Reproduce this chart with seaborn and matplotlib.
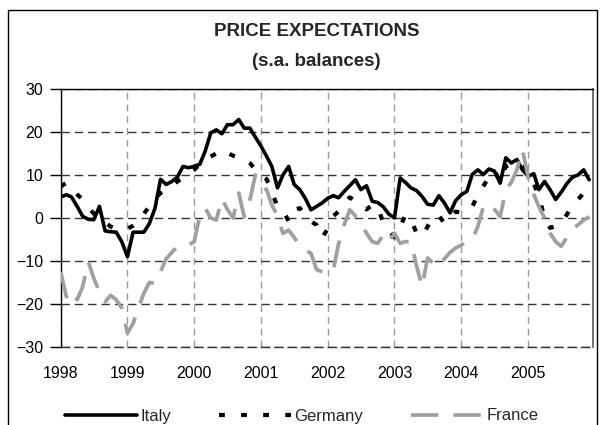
import numpy as np
import pandas as pd
import seaborn as sns
import matplotlib.pyplot as plt
import matplotlib.dates as mdates
from matplotlib.patches import Rectangle

#%% data - monthly balances, Jan 1998 .. Dec 2005

italy = [4.9, 5.4, 4.9, 2.7, 0.4, -0.3, -0.4, 2.7, -3.0, -3.2, -3.3, -5.5,
         -9.0, -3.3, -3.3, -3.3, -1.3, 2.3, 9.0, 7.8, 8.5, 9.5, 12.0, 11.7,
         12.0, 12.5, 15.5, 19.8, 20.5, 19.6, 21.7, 21.7, 22.9, 20.9, 20.9, 18.8,
         16.7, 14.3, 12.0, 7.0, 10.0, 12.0, 7.8, 6.6, 4.5, 1.9, 2.7, 3.5,
         4.6, 5.2, 4.7, 6.2, 7.5, 8.9, 6.6, 7.5, 3.9, 3.6, 2.6, 0.9,
         0.0, 9.3, 8.3, 7.0, 6.4, 5.0, 3.2, 3.0, 5.2, 3.5, 1.2, 4.0,
         5.4, 6.2, 10.1, 11.2, 10.1, 11.4, 10.9, 8.1, 14.0, 12.8, 13.6, 11.2,
         9.7, 10.3, 6.6, 8.5, 6.6, 4.3, 6.0, 8.0, 9.5, 10.0, 11.2, 8.9]

germany = [7.3, 8.2, 7.0, 5.5, 4.3, 2.5, 1.0, 0.5, -1.0, -2.0, -2.5, -2.7,
           -2.5, -1.8, -0.8, 1.0, 2.7, 4.5, 5.8, 6.6, 7.5, 8.5, 9.3, 10.3,
           11.2, 12.5, 13.6, 14.3, 15.0, 15.9, 15.1, 14.5, 14.0, 13.8, 12.8, 11.2,
           10.0, 9.0, 6.0, 2.7, 1.9, -0.8, 1.9, 2.3, 0.5, -0.8, -1.6, -4.6,
           -2.5, 0.5, 1.5, 3.5, 4.8, 4.0, 3.0, 2.0, 3.0, 2.7, -1.2, -3.0,
           -4.5, -2.0, 0.6, -0.2, -3.5, -4.3, -2.0, 0.4, 0.5, -1.2, -0.3, 1.5,
           1.2, 1.6, 2.5, 5.5, 7.4, 9.5, 11.0, 8.5, 12.0, 12.5, 13.0, 12.0,
           10.5, 8.0, 5.0, 0.0, -2.3, -1.9, -1.2, 0.8, 3.0, 4.3, 5.8, 6.3]

france = [-12.5, -18.3, -16.8, -19.0, -16.0, -10.2, -14.0, -17.2, -19.5, -18.0, -19.0, -21.0,
          -26.8, -24.5, -21.0, -17.5, -15.0, -15.2, -12.5, -9.5, -8.0, -6.7, -6.5, -6.3,
          -5.5, 0.5, 2.3, 0.0, -0.5, 4.5, 2.0, 0.0, 5.8, 0.3, 4.2, 10.0,
          8.0, 6.5, 3.0, 0.5, -3.6, -2.8, -4.5, -6.5, -7.5, -8.2, -12.0, -12.5,
          -12.9, -12.0, -6.0, -1.5, 1.9, 0.5, -1.5, -3.5, -5.5, -5.9, -3.9, -5.5,
          -3.5, -5.9, -5.5, -5.5, -11.0, -16.0, -9.3, -10.5, -11.3, -9.5, -8.0, -7.0,
          -6.3, -5.5, -5.0, -2.0, 2.6, 3.4, 2.0, 0.3, 6.5, 8.3, 11.2, 15.9,
          9.5, 5.5, 2.6, 0.0, -3.5, -5.5, -6.6, -4.5, -2.5, -1.6, -0.5, 0.3]

countries = ['Italy', 'Germany', 'France']
months = pd.date_range('1998-01-01', periods=len(italy), freq='MS')

df = pd.DataFrame({'date': months, 'Italy': italy, 'Germany': germany, 'France': france})

#%% plot

sns.set_theme(style='white')
plt.rcParams['font.family'] = ['Liberation Sans', 'DejaVu Sans']

fig = plt.figure(figsize=(6.05, 4.25), dpi=100)
ax = fig.add_axes([60.7 / 605, 1 - 347 / 425, (593 - 60.7) / 605, (347 - 89) / 425])

styles = {
    'Italy': dict(color='black', linewidth=2.6, linestyle='-'),
    'Germany': dict(color='black', linewidth=3.0, linestyle=(0, (1.4, 3.9))),
    'France': dict(color='#a0a0a0', linewidth=2.7, linestyle=(0, (7.3, 4.0))),
}
for i, c in enumerate(countries):
    sns.lineplot(x=df['date'], y=df[c], ax=ax, label=c, zorder=3 + i, **styles[c])

ax.set_xlim(months[0], pd.Timestamp('2005-12-22'))
ax.set_ylim(-30, 30)
ax.set_yticks(range(-30, 31, 10))
ax.xaxis.set_major_locator(mdates.YearLocator())
ax.xaxis.set_major_formatter(mdates.DateFormatter('%Y'))
ax.set_xlabel('')
ax.set_ylabel('')

ax.set_axisbelow(True)
ax.yaxis.grid(True, color='#333333', linewidth=1.0, linestyle=(0, (6, 3.6)))
ax.xaxis.grid(True, color='#9a9a9a', linewidth=1.0, linestyle=(0, (5, 3.5)))

for s in ['left', 'top']:
    ax.spines[s].set_color('black')
    ax.spines[s].set_linewidth(1.0)
ax.spines['right'].set_color('#666666')
ax.spines['right'].set_linewidth(1.3)
ax.spines['bottom'].set_color('#333333')
ax.spines['bottom'].set_linewidth(1.0)
ax.spines['bottom'].set_linestyle((0, (6, 3.6)))

ax.tick_params(axis='y', left=True, direction='out', length=7.7, width=1,
               color='black', pad=4.8, labelsize=11.5, labelcolor='black')
ax.tick_params(axis='x', bottom=False, length=0, pad=14, labelsize=11.5, labelcolor='black')

# titles
fig.text(317 / 605, 1 - 32 / 425, 'PRICE EXPECTATIONS', ha='center', va='center',
         fontsize=13.5, fontweight='bold')
fig.text(316 / 605, 1 - 61 / 425, '(s.a. balances)', ha='center', va='center',
         fontsize=13.5, fontweight='bold')

# legend below
handles, labels = ax.get_legend_handles_labels()
ax.get_legend().remove()
fig.legend(handles, labels, loc='center left', bbox_to_anchor=(65 / 605, 1 - 416 / 425),
           ncol=3, frameon=False, fontsize=12, handlelength=4.3, handletextpad=0.2,
           columnspacing=2.9, borderpad=0, borderaxespad=0)

# outer frame
fig.patches.append(Rectangle((8 / 605, -0.05), (597 - 8) / 605, (425 - 10) / 425 + 0.05,
                             transform=fig.transFigure, fill=False,
                             edgecolor='black', linewidth=1.0))

fig.savefig('out.png', dpi=100)
